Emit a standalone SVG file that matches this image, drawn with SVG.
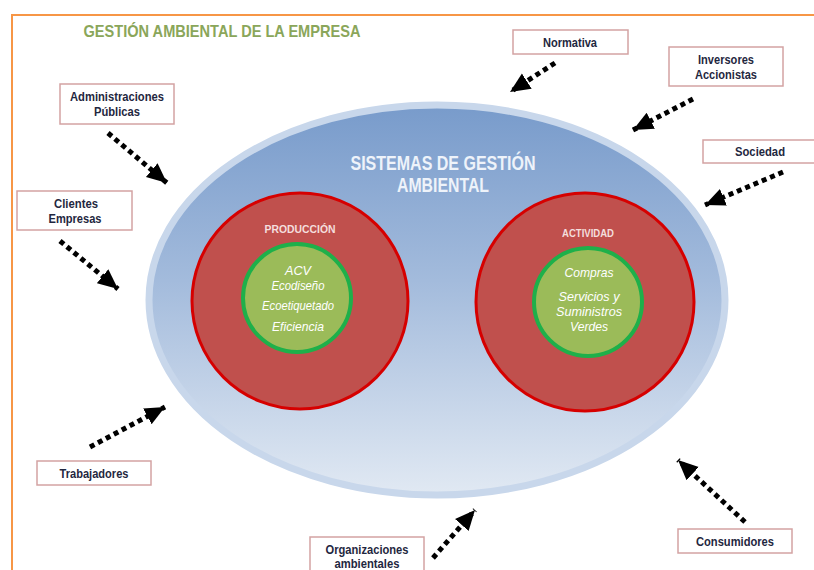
<svg xmlns="http://www.w3.org/2000/svg" width="814" height="570" viewBox="0 0 814 570">
<style>
.box{fill:#fff;stroke:#d3a3a3;stroke-width:1.5}
.bt{font-family:"Liberation Sans",Arial,sans-serif;font-size:13px;font-weight:bold;fill:#1f2740;text-anchor:middle}
.arr{fill:none;stroke:#000;stroke-width:5;stroke-dasharray:5 4;marker-end:url(#ah)}
.it{font-family:"Liberation Sans",Arial,sans-serif;font-size:13px;font-style:italic;fill:#fff;text-anchor:middle}
.hd{font-family:"Liberation Sans",Arial,sans-serif;font-size:11px;font-weight:bold;fill:#f4dedd;text-anchor:middle}
.red{fill:#c0504d;stroke:#d60000;stroke-width:3}
.grn{fill:#9bbb59;stroke:#1eb04a;stroke-width:4}
</style>
<defs>
<linearGradient id="eg" x1="0" y1="0" x2="0" y2="1">
<stop offset="0" stop-color="#789bcb"/>
<stop offset="0.45" stop-color="#a3bbdc"/>
<stop offset="1" stop-color="#e1e9f3"/>
</linearGradient>
<marker id="ah" markerUnits="userSpaceOnUse" markerWidth="20" markerHeight="20" viewBox="0 0 20 20" refX="20" refY="10" orient="auto">
<path d="M0,1 L20,10 L0,19 z" fill="#000"/>
</marker>
</defs>
<rect width="814" height="570" fill="#fff"/>
<path d="M12,572 L12,15 L816,15" fill="none" stroke="#f79646" stroke-width="2"/>
<text x="222" y="37" font-family="'Liberation Sans',Arial,sans-serif" font-size="17" font-weight="bold" fill="#8aa65a" text-anchor="middle" textLength="277" lengthAdjust="spacingAndGlyphs">GESTIÓN AMBIENTAL DE LA EMPRESA</text>

<g id="sistemas">
<ellipse cx="437" cy="300" rx="288" ry="195" fill="url(#eg)" stroke="#c8d7eb" stroke-width="7"/>
<text x="443" y="170" font-family="'Liberation Sans',Arial,sans-serif" font-size="20" font-weight="bold" fill="#eef3fa" text-anchor="middle" textLength="185" lengthAdjust="spacingAndGlyphs">SISTEMAS DE GESTIÓN</text>
<text x="443" y="192" font-family="'Liberation Sans',Arial,sans-serif" font-size="20" font-weight="bold" fill="#eef3fa" text-anchor="middle" textLength="92" lengthAdjust="spacingAndGlyphs">AMBIENTAL</text>
</g>

<g id="produccion">
<circle cx="300" cy="301" r="108" class="red"/>
<text x="300" y="233" class="hd" textLength="71" lengthAdjust="spacingAndGlyphs">PRODUCCIÓN</text>
<circle cx="297" cy="298" r="54" class="grn"/>
<text x="298" y="275" class="it" font-size="15" textLength="26" lengthAdjust="spacingAndGlyphs">ACV</text>
<text x="298" y="290" class="it" textLength="53" lengthAdjust="spacingAndGlyphs">Ecodiseño</text>
<text x="298" y="310" class="it" textLength="72" lengthAdjust="spacingAndGlyphs">Ecoetiquetado</text>
<text x="298" y="331" class="it" textLength="52" lengthAdjust="spacingAndGlyphs">Eficiencia</text>
</g>

<g id="actividad">
<circle cx="585" cy="302" r="109" class="red"/>
<text x="588" y="237" class="hd" textLength="52" lengthAdjust="spacingAndGlyphs">ACTIVIDAD</text>
<circle cx="588" cy="302" r="54" class="grn"/>
<text x="589" y="277" class="it" textLength="49" lengthAdjust="spacingAndGlyphs">Compras</text>
<text x="589" y="301" class="it" textLength="61" lengthAdjust="spacingAndGlyphs">Servicios y</text>
<text x="589" y="316" class="it" textLength="66" lengthAdjust="spacingAndGlyphs">Suministros</text>
<text x="589" y="331" class="it" textLength="38" lengthAdjust="spacingAndGlyphs">Verdes</text>
</g>

<g id="administraciones">
<rect x="60" y="84" width="114" height="40" class="box"/>
<text x="117" y="101" class="bt" textLength="94" lengthAdjust="spacingAndGlyphs">Administraciones</text>
<text x="117" y="116" class="bt" textLength="46" lengthAdjust="spacingAndGlyphs">Públicas</text>
</g>
<g id="normativa">
<rect x="513" y="30" width="115" height="24" class="box"/>
<text x="570" y="47" class="bt" textLength="54" lengthAdjust="spacingAndGlyphs">Normativa</text>
</g>
<g id="inversores">
<rect x="669" y="47" width="114" height="39" class="box"/>
<text x="726" y="64" class="bt" textLength="56" lengthAdjust="spacingAndGlyphs">Inversores</text>
<text x="726" y="79" class="bt" textLength="62" lengthAdjust="spacingAndGlyphs">Accionistas</text>
</g>
<g id="sociedad">
<rect x="703" y="140" width="114" height="23" class="box"/>
<text x="760" y="156" class="bt" textLength="50" lengthAdjust="spacingAndGlyphs">Sociedad</text>
</g>
<g id="clientes">
<rect x="17" y="191" width="115" height="39" class="box"/>
<text x="76" y="208" class="bt" textLength="44" lengthAdjust="spacingAndGlyphs">Clientes</text>
<text x="75" y="223" class="bt" textLength="53" lengthAdjust="spacingAndGlyphs">Empresas</text>
</g>
<g id="trabajadores">
<rect x="37" y="461" width="114" height="24" class="box"/>
<text x="94" y="478" class="bt" textLength="69" lengthAdjust="spacingAndGlyphs">Trabajadores</text>
</g>
<g id="organizaciones">
<rect x="310" y="537" width="114" height="40" class="box"/>
<text x="367" y="554" class="bt" textLength="83" lengthAdjust="spacingAndGlyphs">Organizaciones</text>
<text x="367" y="568" class="bt" textLength="65" lengthAdjust="spacingAndGlyphs">ambientales</text>
</g>
<g id="consumidores">
<rect x="678" y="529" width="114" height="24" class="box"/>
<text x="735" y="546" class="bt" textLength="78" lengthAdjust="spacingAndGlyphs">Consumidores</text>
</g>

<g id="connectors">
<line x1="108" y1="133" x2="167" y2="183" class="arr"/>
<line x1="555" y1="63" x2="510" y2="92" class="arr"/>
<line x1="693" y1="99" x2="633" y2="130" class="arr"/>
<line x1="783" y1="172" x2="705" y2="205" class="arr"/>
<line x1="60" y1="241" x2="118" y2="289" class="arr"/>
<line x1="90" y1="447" x2="165" y2="407" class="arr"/>
<line x1="433" y1="558" x2="475" y2="510" class="arr"/>
<line x1="745" y1="522" x2="678" y2="460" class="arr"/>
</g>
</svg>
